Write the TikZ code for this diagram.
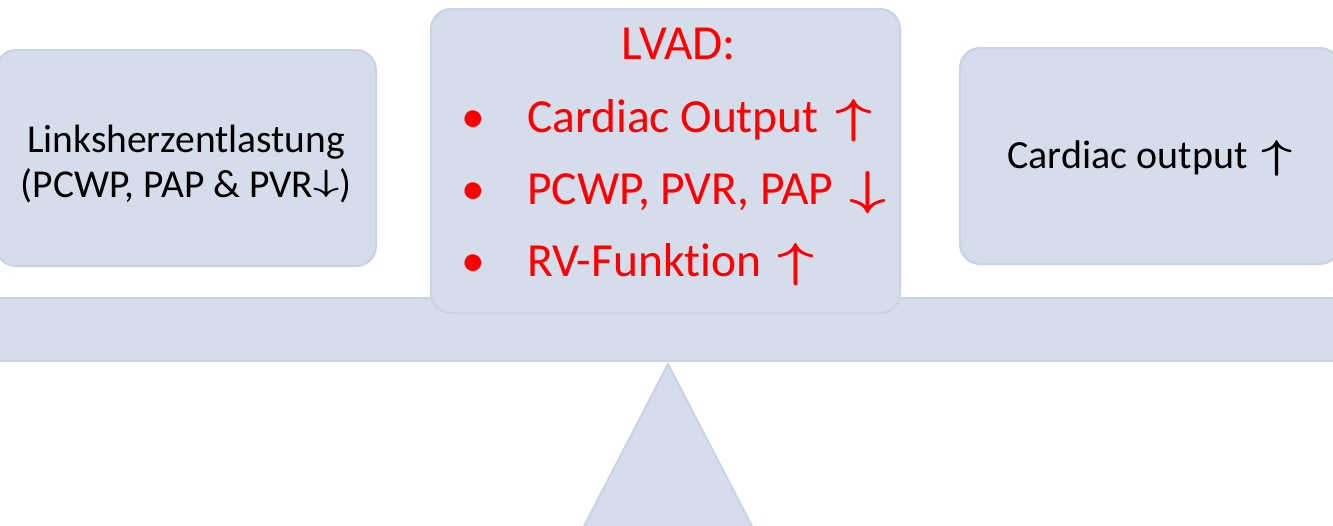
\documentclass[tikz,border=0pt]{standalone}
\usepackage{fix-cm}
\usepackage{fontspec}
\setmainfont{Carlito}[Ligatures=NoCommon]
\usetikzlibrary{positioning}

\definecolor{panelfill}{HTML}{D5DCEA}
\definecolor{panelline}{HTML}{CAD2E3}
\definecolor{lvadred}{HTML}{FF0000}

\newcommand{\hoch}{\hspace{0.12em}\scalebox{1.35}[1]{\boldmath$\uparrow$}}
\newcommand{\runter}{\hspace{0.12em}\scalebox{1.35}[1]{\boldmath$\downarrow$}}
\newcommand{\kleinrunter}{\raisebox{0.15em}{\scalebox{1.15}[0.78]{\boldmath$\downarrow$}}}

\tikzstyle{panel} = [draw=panelline, line width=2pt, fill=panelfill, rounded corners=20pt]
\tikzstyle{side} = [inner sep=0pt, anchor=base, font=\fontsize{40}{45}\selectfont]
\tikzstyle{lvad} = [inner sep=0pt, anchor=base west, text=lvadred, font=\fontsize{47.5}{60}\selectfont]

\begin{document}
\begin{tikzpicture}[x=1pt, y=-1pt]
\useasboundingbox (0,0) rectangle (1333,525);

% side boxes
\draw[panel] (-4,50) rectangle (376,266);
\draw[panel] (960,48) rectangle (1340,264);

% beam and fulcrum
\draw[draw=panelline, line width=1.5pt, fill=panelfill] (-5,298) rectangle (1340,361);
\draw[draw=panelline, line width=2pt, fill=panelfill, line join=round]
  (668,364) -- (754,530) -- (582,530) -- cycle;

% middle box, in front of the beam
\draw[panel] (431,9) rectangle (900,313);

% left
\node[side, font=\fontsize{39.5}{45}\selectfont] (entl) at (186,152) {Linksherzentlastung};
\node[side, font=\fontsize{39.5}{45}\selectfont] (entlwerte) at (186,197) {(PCWP, PAP \& PVR\kleinrunter)};

% right
\node[side] (output) at (1150,168) {Cardiac output \hoch};

% middle
\node[lvad, anchor=base, font=\fontsize{49}{60}\selectfont] (titel) at (679,59) {LVAD:};
\node[lvad] (co) at (461,132) {\makebox[66pt][l]{•}Cardiac Output \hoch};
\node[lvad] (druck) at (461,204) {\makebox[66pt][l]{•}PCWP, PVR, PAP \runter};
\node[lvad] (rv) at (461,276) {\makebox[66pt][l]{•}RV-Funktion \hoch};
\end{tikzpicture}
\end{document}
